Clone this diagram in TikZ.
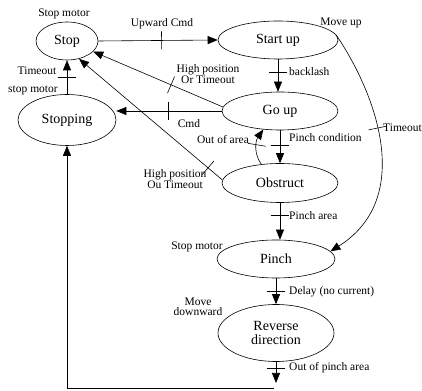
\documentclass[tikz,border=0pt]{standalone}
\usepackage{fontspec}
\setmainfont{Liberation Serif}
\usepackage{tikz}
\usetikzlibrary{arrows.meta,positioning,shapes.geometric,decorations.markings}

\tikzset{
  state/.style={ellipse, draw, line width=0.6pt, inner sep=0pt, font=\fontsize{14}{16}\selectfont, align=center},
  lbl/.style={inner sep=1pt, font=\fontsize{11.5}{12.5}\selectfont, align=center},
  arr/.style={line width=0.6pt, -{Triangle[length=10pt,width=8pt]}},
  bar/.style={postaction={decorate, decoration={markings,
      mark=at position #1 with {\draw[-, line width=0.6pt] (0,-9pt) -- (0,9pt);}}}}
}

\begin{document}
\begin{tikzpicture}[x=1pt, y=1pt]
    \useasboundingbox (0,0) rectangle (422,390);

    % --- States ---
    \node[state, minimum width=62, minimum height=38] (stop) at (67,349) {Stop};
    \node[state, minimum width=120, minimum height=38] (startup) at (278,350) {Start up};
    \node[state, minimum width=116, minimum height=38] (goup) at (280,279) {Go up};
    \node[state, minimum width=98, minimum height=51] (stopping) at (67,270) {Stopping};
    \node[state, minimum width=116, minimum height=39] (obstruct) at (280,207) {Obstruct};
    \node[state, minimum width=118, minimum height=38] (pinch) at (276,131) {Pinch};
    \node[state, minimum width=116, minimum height=57] (reverse) at (276,57) {Reverse\\[-2pt]direction};

    % --- Actions on states ---
    \node[lbl] (stopact) at (64,376) {Stop motor};
    \node[lbl] (startact) at (341,367) {Move up};
    \node[lbl] (stoppingact) at (33,300) {stop motor};
    \node[lbl] (pinchact) at (197,143) {Stop motor};
    \node[lbl, align=center] (reverseact) at (198,83) {Move\\[-2pt]downward};

    % --- Transitions ---
    \draw[arr, bar=0.53] (stop.east) -- (startup.west);
    \node[lbl] (upcmd) at (162,366) {Upward Cmd};

    \draw[arr, bar=0.4] (startup.south) -- (startup.south |- goup.north);
    \node[lbl, anchor=west] (backlash) at (288,318) {backlash};

    \draw[arr, bar=0.51] (goup.west) -- (goup.west -| stopping.east);
    \node[lbl] (cmd) at (189,266) {Cmd};

    \draw[arr, bar=0.4] (goup.176) -- (stop.-22);
    \node[lbl] (goupstop) at (208,316) {High position\\[-2pt]Or Timeout};

    \draw[arr, bar=0.1] (obstruct.177) -- (stop.-56);
    \node[lbl] (obststop) at (175,211) {High position\\[-2pt]Ou Timeout};

    \draw[arr, bar=0.5] (stopping.north) -- (stop.south);
    \node[lbl] (timeout) at (37,319) {Timeout};

    \draw[arr, bar=0.47] (goup.south) -- (obstruct.north);
    \node[lbl, anchor=west] (pinchcond) at (288,252) {Pinch condition};

    \draw[arr, bar=0.55] (obstruct.135) to[out=125, in=235] (goup.228);
    \node[lbl] (outarea) at (223,250) {Out of area};

    \draw[arr, bar=0.33] (obstruct.south) -- (obstruct.south |- pinch.north);
    \node[lbl, anchor=west] (pincharea) at (288,174) {Pinch area};

    \draw[arr, bar=0.42] (startup.5) .. controls (380,290) and (412,190) .. (pinch.8);
    \node[lbl, anchor=west] (timeoutr) at (382,262) {Timeout};

    \draw[arr, bar=0.5] (pinch.south) -- (reverse.north);
    \node[lbl, anchor=west] (delay) at (288,98) {Delay (no current)};

    % --- Back to Stopping ---
    \coordinate (rvout) at (276,7);
    \coordinate (rvlow) at (274,2);
    \draw[arr, bar=0.3] (reverse.south) -- (rvout);
    \draw[arr] (rvlow) -| (stopping.south);
    \node[lbl, anchor=west] (outpinch) at (288,22) {Out of pinch area};

\end{tikzpicture}
\end{document}
